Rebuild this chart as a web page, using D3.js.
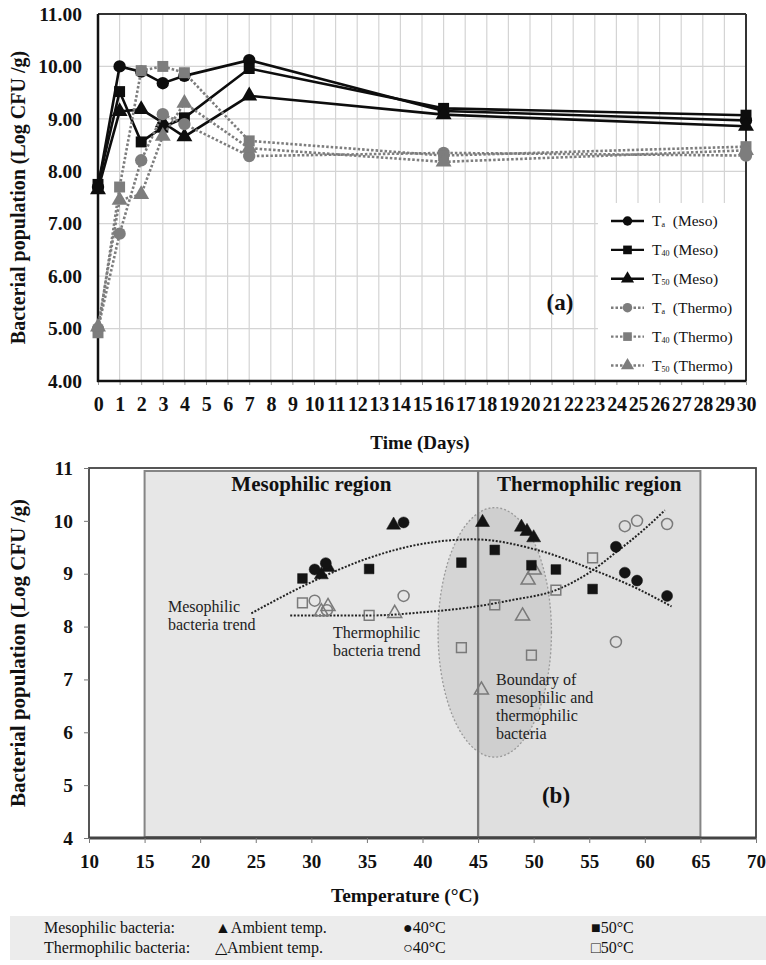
<!DOCTYPE html>
<html><head><meta charset="utf-8">
<script src="https://cdn.jsdelivr.net/npm/d3@7"></script>
<style>
body{margin:0;background:#fff;}
svg{display:block;font-family:"Liberation Serif","Times New Roman",serif;}
</style></head><body>
<svg id="c" width="766" height="965"></svg>
<script>
// ---------- Panel (a) data ----------
const days = [0,1,2,3,4,7,16,30];
const taMeso    = [7.70,10.00,9.90,9.68,9.82,10.12,9.15,8.97];
const t40Meso   = [7.75,9.52,8.56,8.84,9.02,9.96,9.20,9.07];
const t50Meso   = [7.65,9.14,9.18,8.93,8.66,9.44,9.08,8.86];
const taThermo  = [5.00,6.81,8.21,9.09,8.90,8.29,8.35,8.30];
const t40Thermo = [4.92,7.70,9.92,10.00,9.88,8.58,8.30,8.47];
const t50Thermo = [5.03,7.45,7.56,8.67,9.30,8.44,8.18,8.40];
const dayTicks = [0,1,2,3,4,5,6,7,8,9,10,11,12,13,14,15,16,17,18,19,20,21,22,23,24,25,26,27,28,29,30];
const popTicksA = [4,5,6,7,8,9,10,11];
const legendA = [
  {sub:"a", rest:"  (Meso)"},{sub:"40", rest:" (Meso)"},{sub:"50", rest:" (Meso)"},
  {sub:"a", rest:"  (Thermo)"},{sub:"40", rest:" (Thermo)"},{sub:"50", rest:" (Thermo)"}];

// ---------- Panel (b) data ----------
const mesoAmbT   = [30.9,31.5,37.4,45.4,48.9,49.4,50.0];
const mesoAmbV   = [8.98,9.12,9.92,9.97,9.88,9.80,9.68];
const meso40T    = [30.3,31.3,38.3,57.4,58.2,59.3,62.0];
const meso40V    = [9.08,9.20,9.97,9.51,9.02,8.87,8.58];
const meso50T    = [29.2,35.2,43.5,46.5,49.8,52.0,55.3];
const meso50V    = [8.91,9.09,9.21,9.45,9.16,9.08,8.71];
const thermoAmbT = [30.9,31.5,37.5,45.3,49.0,49.5,50.05];
const thermoAmbV = [8.28,8.38,8.25,6.80,8.20,8.88,9.07];
const thermo40T  = [30.3,31.4,38.3,57.4,58.2,59.3,62.0];
const thermo40V  = [8.49,8.31,8.58,7.71,9.90,10.00,9.94];
const thermo50T  = [29.2,35.2,43.5,46.5,49.8,52.0,55.3];
const thermo50V  = [8.45,8.21,7.60,8.41,7.46,8.69,9.30];
// trend lines
const mesoTrendT   = [24.6,29.6,35.2,40.4,44.6,50.3,55.4,59.3,62.4];
const mesoTrendV   = [8.25,8.80,9.30,9.58,9.65,9.45,9.07,8.72,8.38];
const thermoTrendT = [28.1,35.3,40.0,44.5,48.0,52.0,55.0,57.5,60.0,61.8];
const thermoTrendV = [8.21,8.21,8.27,8.37,8.50,8.69,9.02,9.42,9.85,10.20];
const tempTicks = [10,15,20,25,30,35,40,45,50,55,60,65,70];
const popTicksB = [4,5,6,7,8,9,10,11];
const regionNames = ["Mesophilic region","Thermophilic region"];
const regionFrom = [15,45];
const regionTo   = [45,65];
const boundaryCenter = [46.5,7.89];
const boundaryRadius = [5.1,2.36];
const legendBRows = ["Mesophilic bacteria:","Thermophilic bacteria:"];
const legendBItems = [["▲Ambient temp.","●40°C","■50°C"],["△Ambient temp.","○40°C","□50°C"]];

const svg = d3.select("#c");

// ================= Panel (a) =================
const xA = d3.scaleLinear([0,30],[98,746]);
const yA = d3.scaleLinear([4,11],[381,14]);
const gA = svg.append("g");

// grid
gA.selectAll(".vg").data(dayTicks).join("line")
  .attr("x1",d=>xA(d)).attr("x2",d=>xA(d)).attr("y1",yA(11)).attr("y2",yA(4))
  .attr("stroke","#d4d4d4").attr("stroke-width",1.2);
gA.selectAll(".hg").data(popTicksA).join("line")
  .attr("x1",xA(0)).attr("x2",xA(30)).attr("y1",d=>yA(d)).attr("y2",d=>yA(d))
  .attr("stroke","#d4d4d4").attr("stroke-width",1.2);

// legend background
gA.append("rect").attr("x",598).attr("y",203).attr("width",147).attr("height",177).attr("fill","#fff");

// frame
gA.append("line").attr("x1",xA(0)).attr("x2",xA(30)).attr("y1",yA(11)).attr("y2",yA(11)).attr("stroke","#333").attr("stroke-width",2);
gA.append("line").attr("x1",xA(30)).attr("x2",xA(30)).attr("y1",yA(11)).attr("y2",yA(4)).attr("stroke","#333").attr("stroke-width",2);

// axes
const axA = d3.axisBottom(xA).tickValues(dayTicks).tickSize(4).tickFormat(d3.format("d"));
const gx = gA.append("g").attr("transform",`translate(0,${yA(4)})`).call(axA);
gx.select(".domain").remove();
gx.selectAll(".tick line").attr("stroke","#999");
gx.selectAll(".tick text").attr("font-family","Liberation Serif").attr("font-weight","bold").attr("font-size",20).attr("fill","#111").attr("dy","0.95em").attr("y",11).attr("letter-spacing",-0.3);
const ayA = d3.axisLeft(yA).tickValues(popTicksA).tickSize(0).tickPadding(16).tickFormat(d3.format(".2f"));
const gy = gA.append("g").attr("transform",`translate(${xA(0)},0)`).call(ayA);
gy.select(".domain").remove();
gy.selectAll(".tick text").attr("font-family","Liberation Serif").attr("font-weight","bold").attr("font-size",19.5).attr("fill","#111");
gA.append("line").attr("x1",xA(0)).attr("x2",xA(0)).attr("y1",yA(11)).attr("y2",yA(4)+1).attr("stroke","#111").attr("stroke-width",2.5);
gA.append("line").attr("x1",xA(0)-1).attr("x2",xA(30)).attr("y1",yA(4)).attr("y2",yA(4)).attr("stroke","#111").attr("stroke-width",2.5);

// titles
gA.append("text").attr("x",420).attr("y",449).attr("text-anchor","middle").attr("font-weight","bold").attr("font-size",19).attr("fill","#111").text("Time (Days)");
gA.append("text").attr("transform",`translate(25,${(yA(11)+yA(4))/2}) rotate(-90)`).attr("text-anchor","middle").attr("font-weight","bold").attr("font-size",20).attr("fill","#111").text("Bacterial population (Log CFU /g)");
gA.append("text").attr("x",560).attr("y",310).attr("text-anchor","middle").attr("font-weight","bold").attr("font-size",23).attr("fill","#111").text("(a)");

const sym = {circle:d3.symbolCircle, square:d3.symbolSquare, triangle:d3.symbolTriangle};
const symSize = {circle:120, square:120, triangle:110};
const seriesA = [
  {v:taMeso, shape:"circle", color:"#0d0d0d", dash:null},
  {v:t40Meso, shape:"square", color:"#0d0d0d", dash:null},
  {v:t50Meso, shape:"triangle", color:"#0d0d0d", dash:null},
  {v:taThermo, shape:"circle", color:"#7d7d7d", dash:"2.5,2"},
  {v:t40Thermo, shape:"square", color:"#7d7d7d", dash:"2.5,2"},
  {v:t50Thermo, shape:"triangle", color:"#7d7d7d", dash:"2.5,2"}];
const lineA = d3.line().x((d,i)=>xA(days[i])).y(d=>yA(d));
seriesA.forEach(s=>{
  gA.append("path").attr("d",lineA(s.v)).attr("fill","none").attr("stroke",s.color)
    .attr("stroke-width",2.6).attr("stroke-dasharray",s.dash);
  gA.selectAll(null).data(s.v).join("path")
    .attr("transform",(d,i)=>`translate(${xA(days[i])},${yA(d)})`)
    .attr("d",d3.symbol(sym[s.shape],symSize[s.shape])).attr("fill",s.color);
});

// legend a
const lg = gA.append("g");
seriesA.forEach((s,i)=>{
  const y = 221 + i*28.9;
  lg.append("line").attr("x1",611).attr("x2",644).attr("y1",y).attr("y2",y).attr("stroke",s.color)
    .attr("stroke-width",2.4).attr("stroke-dasharray",s.dash);
  lg.append("path").attr("transform",`translate(627.5,${y})`).attr("d",d3.symbol(sym[s.shape],s.shape==="circle"?70:75)).attr("fill",s.color);
  const t = lg.append("text").attr("x",652).attr("y",y+5).attr("font-size",15.5).attr("fill","#111").attr("xml:space","preserve");
  t.append("tspan").text("T");
  t.append("tspan").attr("font-size",8).attr("dy",1).text(legendA[i].sub);
  t.append("tspan").attr("dy",-1).text(legendA[i].rest);
});

// ================= Panel (b) =================
const xB = d3.scaleLinear([10,70],[89,756]);
const yB = d3.scaleLinear([4,11],[838,468]);
const gB = svg.append("g");
const regionFill = ["#e7e7e7","#dfdfdf"];
regionNames.forEach((n,i)=>{
  gB.append("rect").attr("x",xB(regionFrom[i])).attr("y",yB(11)+3)
    .attr("width",xB(regionTo[i])-xB(regionFrom[i])).attr("height",yB(4)-yB(11)-4)
    .attr("fill",regionFill[i]).attr("stroke","#858585").attr("stroke-width",2);
});
// boundary ellipse
gB.append("ellipse").attr("cx",xB(boundaryCenter[0])).attr("cy",yB(boundaryCenter[1]))
  .attr("rx",xB(boundaryCenter[0]+boundaryRadius[0])-xB(boundaryCenter[0]))
  .attr("ry",yB(boundaryCenter[1]-boundaryRadius[1])-yB(boundaryCenter[1]))
  .attr("fill","rgba(150,150,150,0.22)").attr("stroke","#9a9a9a").attr("stroke-width",1.3).attr("stroke-dasharray","2,2");
// mid boundary line redraw
gB.append("line").attr("x1",xB(45)).attr("x2",xB(45)).attr("y1",yB(11)+3).attr("y2",yB(4)).attr("stroke","#7a7a7a").attr("stroke-width",2.2);
// frame
gB.append("rect").attr("x",xB(10)).attr("y",yB(11)).attr("width",xB(70)-xB(10)).attr("height",yB(4)-yB(11))
  .attr("fill","none").attr("stroke","#444").attr("stroke-width",1.8);
gB.append("line").attr("x1",xB(10)).attr("x2",xB(70)).attr("y1",yB(4)).attr("y2",yB(4)).attr("stroke","#444").attr("stroke-width",3);

// axes
const axB = d3.axisBottom(xB).tickValues(tempTicks).tickSize(5).tickFormat(d3.format("d"));
const gxb = gB.append("g").attr("transform",`translate(0,${yB(4)})`).call(axB);
gxb.select(".domain").remove();
gxb.selectAll(".tick line").attr("stroke","#777");
gxb.selectAll(".tick text").attr("font-family","Liberation Serif").attr("font-weight","bold").attr("font-size",19).attr("fill","#111").attr("y",13).attr("dy","0.9em");
const ayB = d3.axisLeft(yB).tickValues(popTicksB).tickSize(5).tickPadding(11).tickFormat(d3.format("d"));
const gyb = gB.append("g").attr("transform",`translate(${xB(10)},0)`).call(ayB);
gyb.select(".domain").remove();
gyb.selectAll(".tick line").attr("stroke","#777");
gyb.selectAll(".tick text").attr("font-family","Liberation Serif").attr("font-weight","bold").attr("font-size",19.5).attr("fill","#111");

gB.append("text").attr("x",405).attr("y",902).attr("text-anchor","middle").attr("font-weight","bold").attr("font-size",19.5).attr("fill","#111").text("Temperature (°C)");
gB.append("text").attr("transform",`translate(25,${(yB(11)+yB(4))/2}) rotate(-90)`).attr("text-anchor","middle").attr("font-weight","bold").attr("font-size",21).attr("fill","#111").text("Bacterial population (Log CFU /g)");

// region titles
gB.append("text").attr("x",xB(30)).attr("y",yB(10.57)).attr("text-anchor","middle").attr("font-weight","bold").attr("font-size",21).attr("fill","#111").text(regionNames[0]);
gB.append("text").attr("x",xB(55)).attr("y",yB(10.57)).attr("text-anchor","middle").attr("font-weight","bold").attr("font-size",21).attr("fill","#111").text(regionNames[1]);

// trend lines
const lineB = d3.line().curve(d3.curveMonotoneX);
gB.append("path").attr("d",lineB(mesoTrendT.map((t,i)=>[xB(t),yB(mesoTrendV[i])])))
  .attr("fill","none").attr("stroke","#222").attr("stroke-width",2).attr("stroke-dasharray","2,1.6");
gB.append("path").attr("d",lineB(thermoTrendT.map((t,i)=>[xB(t),yB(thermoTrendV[i])])))
  .attr("fill","none").attr("stroke","#222").attr("stroke-width",2).attr("stroke-dasharray","2,1.6");

// points
function pts(T,V,shape,filled){
  gB.selectAll(null).data(T).join("path")
    .attr("transform",(d,i)=>`translate(${xB(d)},${yB(V[i])})`)
    .attr("d",d3.symbol(sym[shape],shape==="triangle"?85:95))
    .attr("fill",filled?"#141414":"none").attr("stroke",filled?"#141414":"#7a7a7a").attr("stroke-width",filled?0.5:1.5);
}
pts(thermoAmbT,thermoAmbV,"triangle",false);
pts(thermo40T,thermo40V,"circle",false);
pts(thermo50T,thermo50V,"square",false);
pts(mesoAmbT,mesoAmbV,"triangle",true);
pts(meso40T,meso40V,"circle",true);
pts(meso50T,meso50V,"square",true);

// annotations
function multi(x,y,lines,lh){
  const t = gB.append("text").attr("x",x).attr("y",y).attr("font-size",16).attr("fill","#222");
  lines.forEach((l,i)=>t.append("tspan").attr("x",x).attr("dy",i?lh:0).text(l));
}
multi(168,612,["Mesophilic","bacteria trend"],18);
multi(333,638,["Thermophilic","bacteria trend"],18);
multi(496,685,["Boundary  of","mesophilic and","thermophilic","bacteria"],18);
gB.append("text").attr("x",556).attr("y",803).attr("text-anchor","middle").attr("font-weight","bold").attr("font-size",23).attr("fill","#111").text("(b)");

// legend b
gB.append("rect").attr("x",10).attr("y",916).attr("width",756).attr("height",44).attr("fill","#ececec");
legendBRows.forEach((r,i)=>{
  const y = 933 + i*20;
  gB.append("text").attr("x",44).attr("y",y).attr("font-size",16).attr("fill","#111").text(r);
  const xs = [215,403,591];
  legendBItems[i].forEach((it,j)=>{
    gB.append("text").attr("x",xs[j]).attr("y",y).attr("font-size",16).attr("fill","#111").text(it);
  });
});
</script>
</body></html>
